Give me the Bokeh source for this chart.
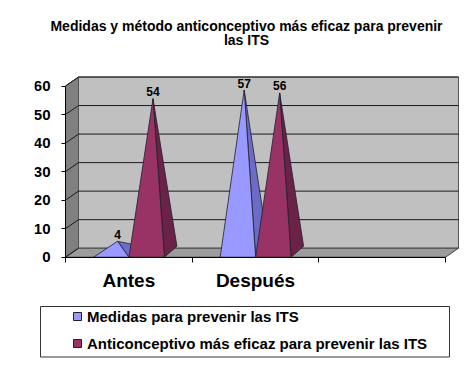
import math
from bokeh.plotting import figure
from bokeh.models import Range1d, FixedTicker, Legend, LegendItem, Label
from bokeh.core.properties import value
from bokeh.embed import file_html
from bokeh.resources import INLINE

# ---------------- data ----------------
TITLE_LINES = ["Medidas y método anticonceptivo más eficaz para prevenir", "las ITS"]
CATEGORIES = ["Antes", "Después", ""]
SERIES = ["Medidas para prevenir las ITS",
          "Anticonceptivo más eficaz para prevenir las ITS"]
MEDIDAS = [4, 57]
ANTICONCEPTIVO = [54, 56]
Y_TICKS = [0, 10, 20, 30, 40, 50, 60]

# ---------------- style / layout ----------------
FRONT = ["#9999FF", "#993366"]
SIDE = ["#6C6CC6", "#6A2246"]
FONT = "Liberation Sans"

W, H = 470, 365
FL, FB = 34, 365          # frame left / bottom (page pixels)
X0PX, Y0PX = 65, 256.7    # pixel position of the data origin
PXX = 126.67              # pixels per category
PXY = 2.853               # pixels per value unit


def dx(px):
    return (px - X0PX) / PXX


def dy(py):
    return (Y0PX - py) / PXY


wall_dx, wall_dy = 13 / PXX, 9 / PXY
pyr_dx, pyr_dy = 12.5 / PXX, 11 / PXY
apex_dx, apex_dy = 6.3 / PXX, 4.5 / PXY
label_gap = 7 / PXY
gap, bw = 0.221, 0.28
n_cat = len(CATEGORIES)
y_top = Y_TICKS[-1]

p = figure(width=W, height=H, x_range=Range1d(dx(FL), dx(W)), y_range=Range1d(dy(FB), dy(0)),
           output_backend="svg", toolbar_location=None,
           min_border_left=FL, min_border_right=0, min_border_top=0,
           min_border_bottom=H - FB, outline_line_color=None)
p.grid.visible = False

# 3D box: left wall, back wall, floor
p.patch([0, wall_dx, wall_dx, 0], [0, wall_dy, y_top + wall_dy, y_top],
        fill_color="#808080", line_color="#333333", line_width=1)
p.quad(left=wall_dx, right=n_cat + wall_dx, bottom=wall_dy, top=y_top + wall_dy,
       fill_color="#C0C0C0", line_color="#555555", line_width=1)
p.patch([0, n_cat, n_cat + wall_dx, wall_dx], [0, 0, wall_dy, wall_dy],
        fill_color="#9C9C9C", line_color="#444444", line_width=1)
grid_vals = Y_TICKS[1:]
p.segment(x0=[wall_dx] * len(grid_vals), y0=[t + wall_dy for t in grid_vals],
          x1=[n_cat + wall_dx] * len(grid_vals), y1=[t + wall_dy for t in grid_vals],
          line_color="#1a1a1a", line_width=1)
p.segment(x0=[0] * len(Y_TICKS), y0=Y_TICKS,
          x1=[wall_dx] * len(Y_TICKS), y1=[t + wall_dy for t in Y_TICKS],
          line_color="#1a1a1a", line_width=1)

# pyramids
for s, vals in enumerate([MEDIDAS, ANTICONCEPTIVO]):
    sx, sy, fx, fy, lx, ly = [], [], [], [], [], []
    for i, v in enumerate(vals):
        x0 = i + gap + s * bw
        x1 = x0 + bw
        ax = (x0 + x1) / 2 + apex_dx
        ay = v + apex_dy
        sx.append([x1, x1 + pyr_dx, ax]); sy.append([0, pyr_dy, ay])
        fx.append([x0, x1, ax]); fy.append([0, 0, ay])
        lx.append(ax); ly.append(ay + label_gap)
    p.patches(sx, sy, fill_color=SIDE[s], line_color="#1e1e2e", line_width=0.8)
    p.patches(fx, fy, fill_color=FRONT[s], line_color="#1e1e2e", line_width=0.8)
    p.text(x=lx, y=ly, text=[str(v) for v in vals], text_font=value(FONT),
           text_font_style="bold", text_font_size="12px", text_color="#000000",
           text_align="center", text_baseline="alphabetic")

# title
for line, py in zip(TITLE_LINES, [25, 39.3]):
    p.add_layout(Label(x=dx(246), y=dy(py), text=line, text_font=FONT,
                       text_font_style="bold", text_font_size="14px",
                       text_color="#000000", text_align="center",
                       text_baseline="alphabetic"))

# axes, pinned to the data origin
ya = p.yaxis[0]
ya.fixed_location = 0
ya.ticker = FixedTicker(ticks=Y_TICKS)
ya.bounds = (0, y_top)
ya.major_tick_out, ya.major_tick_in = 4, 0
ya.minor_tick_out, ya.minor_tick_in = 0, 0
ya.major_label_standoff = 11
ya.major_label_text_font = FONT
ya.major_label_text_font_style = "bold"
ya.major_label_text_font_size = "15px"
ya.major_label_text_color = "#000000"
ya.axis_line_color = "#000000"
ya.major_tick_line_color = "#000000"

xa = p.xaxis[0]
xa.fixed_location = 0
xa.ticker = FixedTicker(ticks=[i + 0.5 for i in range(n_cat)],
                        minor_ticks=list(range(n_cat + 1)))
xa.major_label_overrides = {i + 0.5: c for i, c in enumerate(CATEGORIES)}
xa.bounds = (0, n_cat)
xa.major_tick_out, xa.major_tick_in = 0, 0
xa.minor_tick_out, xa.minor_tick_in = 5, 0
xa.minor_tick_line_color = "#000000"
xa.major_label_standoff = 8
xa.major_label_text_font = FONT
xa.major_label_text_font_style = "bold"
xa.major_label_text_font_size = "19px"
xa.major_label_text_color = "#000000"
xa.axis_line_color = "#000000"

# legend box and legend (square swatches; the swatch renderers hold no visible point)
p.quad(left=dx(40), right=dx(449), top=dy(306), bottom=dy(356.5),
       fill_color="#FFFFFF", line_color="#333333", line_width=1)
swatches = [p.scatter(x=[math.nan], y=[math.nan], marker="square", size=8,
                      fill_color=c, line_color="#1e1e2e", line_width=1) for c in FRONT]
legend = Legend(items=[LegendItem(label=value(name), renderers=[r])
                       for name, r in zip(SERIES, swatches)],
                location=(67 - FL, FB - 353), orientation="vertical",
                padding=0, margin=0, spacing=7, glyph_width=20, glyph_height=20,
                label_height=20, label_standoff=-3, label_text_font=FONT,
                label_text_font_style="bold", label_text_font_size="15px",
                label_text_color="#000000", border_line_color=None,
                background_fill_alpha=0)
p.add_layout(legend)

open("out.html", "w").write(file_html(p, INLINE))
